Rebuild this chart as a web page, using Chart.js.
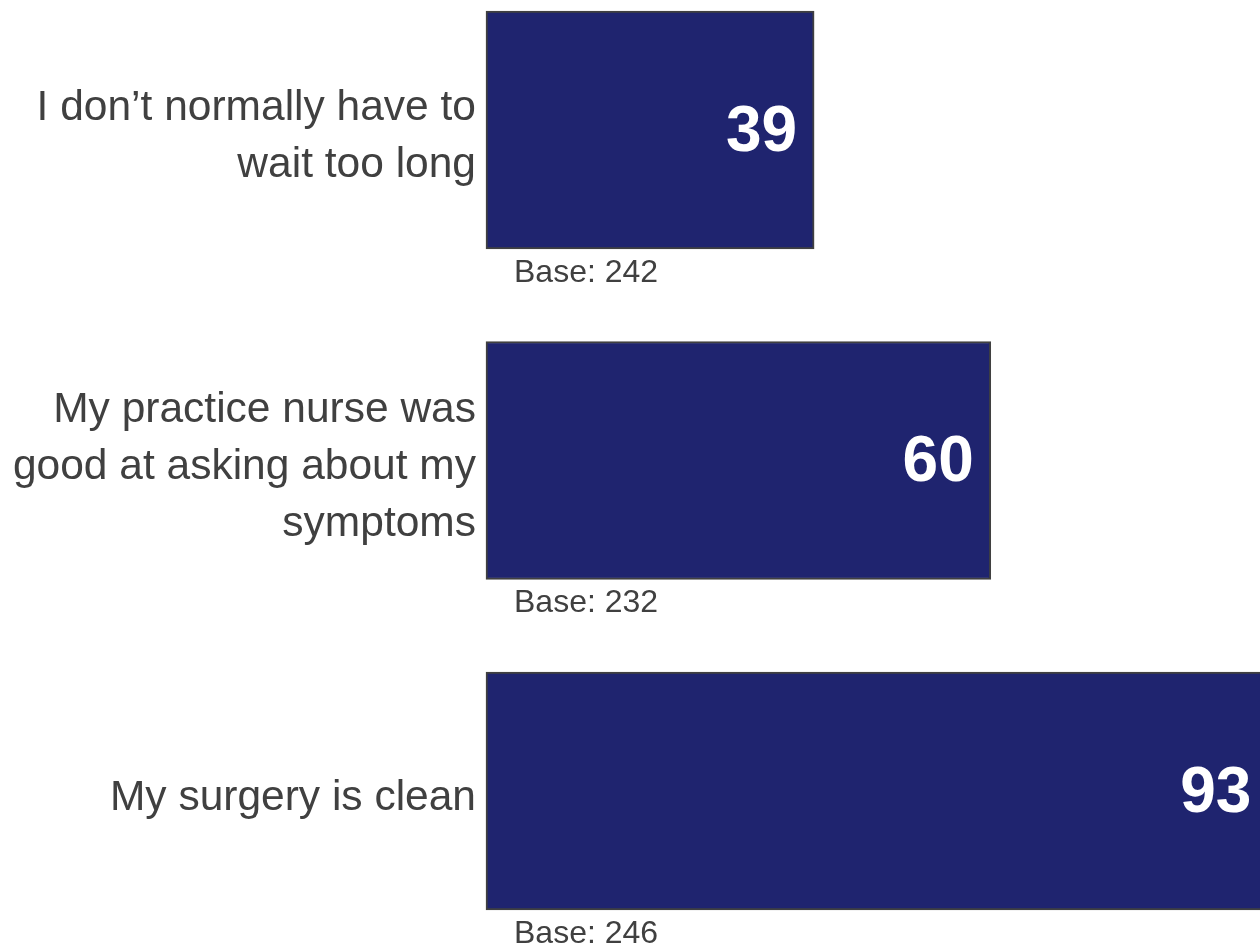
<!DOCTYPE html>
<html>
<head>
<meta charset="utf-8">
<script src="https://cdn.jsdelivr.net/npm/chart.js@4/dist/chart.umd.min.js"></script>
<style>
  html, body { margin: 0; padding: 0; background: #ffffff; }
  #wrap { width: 1260px; height: 944px; position: relative; }
</style>
</head>
<body>
<div id="wrap"><canvas id="scoreChart"></canvas></div>
<script>
// chart data
const categories = [
    ['I don\u2019t normally have to', 'wait too long'],
    ['My practice nurse was', 'good at asking about my', 'symptoms'],
    'My surgery is clean'
];
const scores = [39, 60, 93];
const bases = [242, 232, 246];

const FONT = "'Liberation Sans', Arial, sans-serif";

// draws the big white number inside each bar plus the base count under it
const barLabels = {
    id: 'barLabels',
    afterDatasetsDraw(chart) {
        const ctx = chart.ctx;
        const meta = chart.getDatasetMeta(0);
        ctx.save();
        meta.data.forEach(function(bar, i) {
            ctx.fillStyle = '#ffffff';
            ctx.font = 'bold 64px ' + FONT;
            ctx.textAlign = 'right';
            ctx.textBaseline = 'middle';
            ctx.fillText(String(scores[i]), bar.x - 17, bar.y + 3);

            ctx.fillStyle = '#404040';
            ctx.font = '32px ' + FONT;
            ctx.textAlign = 'left';
            ctx.fillText('Base: ' + bases[i], chart.chartArea.left + 28, bar.y + bar.height / 2 + 24);
        });
        ctx.restore();
    }
};

new Chart(document.getElementById('scoreChart').getContext('2d'), {
    type: 'bar',
    data: {
        labels: categories,
        datasets: [{
            data: scores,
            backgroundColor: '#1f246f',
            borderColor: '#404040',
            borderWidth: 2,
            borderSkipped: false,
            barThickness: 238,
            clip: false
        }]
    },
    options: {
        indexAxis: 'y',
        responsive: true,
        maintainAspectRatio: false,
        animation: false,
        layout: {
            padding: { top: 130, bottom: 153, left: 0, right: 0 }
        },
        plugins: {
            legend: { display: false },
            tooltip: { enabled: false }
        },
        scales: {
            x: {
                display: false,
                min: 0,
                max: 92
            },
            y: {
                offset: false,
                grid: { display: false, drawTicks: false },
                border: { display: false },
                ticks: {
                    color: '#404040',
                    padding: 10,
                    labelOffset: 7,
                    font: { family: FONT, size: 42.5, lineHeight: 1.34 }
                },
                afterFit: function(scale) {
                    scale.width = 486;
                }
            }
        }
    },
    plugins: [barLabels]
});
</script>
</body>
</html>
